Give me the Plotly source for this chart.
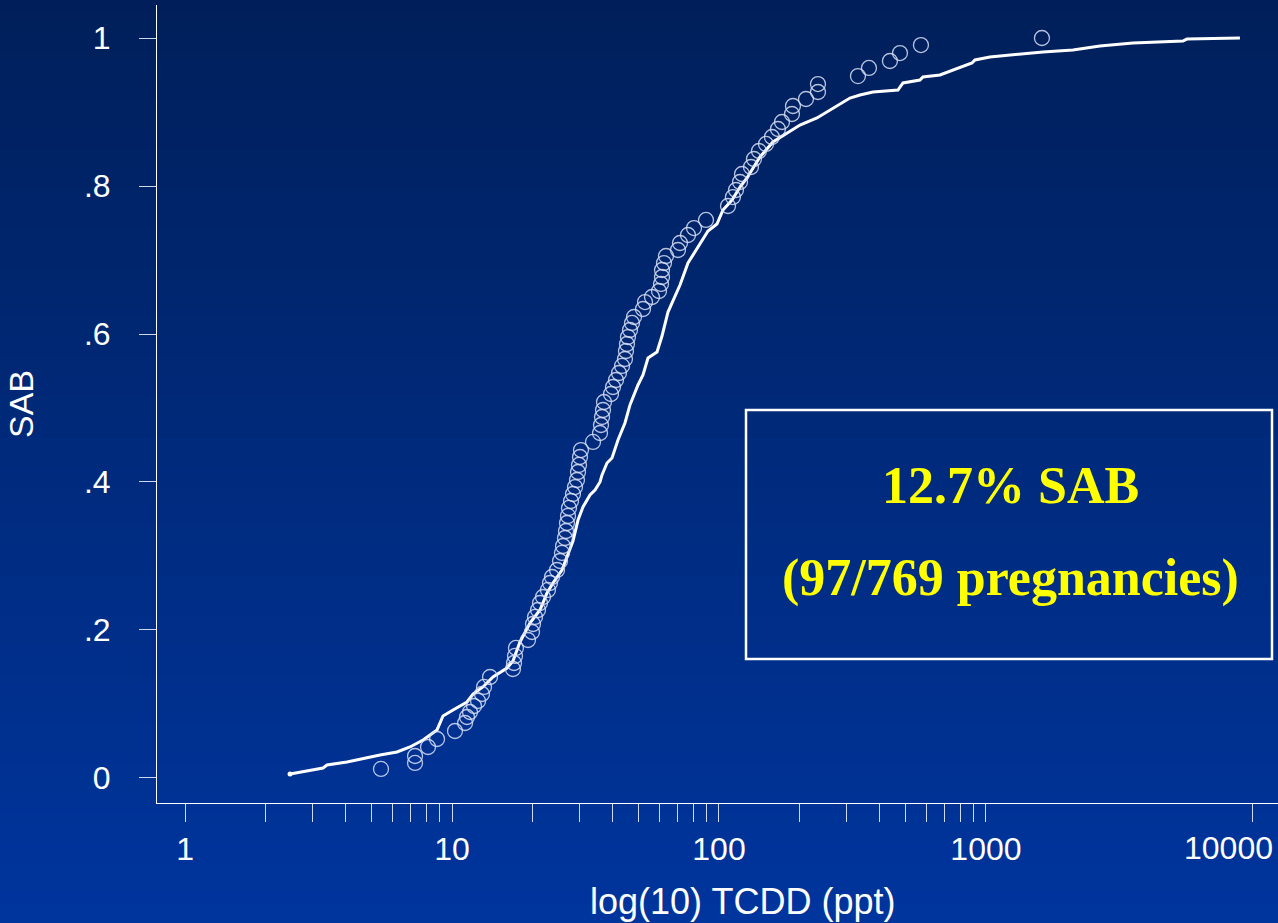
import math
import plotly.graph_objects as go

# ---------------- data ----------------
# SAB pregnancies: cumulative distribution of TCDD (ppt)
sab_tcdd = [5.42, 7.27, 7.27, 8.13, 8.79, 10.26, 11.19, 11.38, 11.68, 12.09,
            12.52, 12.95, 13.18, 13.88, 16.92, 17.07, 17.22, 17.36, 19.26, 19.94,
            20.11, 20.46, 21.00, 21.36, 21.92, 22.88, 23.28, 23.69, 24.74, 25.39,
            25.82, 26.05, 26.50, 26.73, 26.96, 27.20, 27.43, 27.91, 28.39, 28.89,
            29.39, 29.65, 29.90, 30.16, 30.42, 33.74, 35.84, 36.15, 36.47, 36.78,
            37.10, 39.40, 40.09, 41.14, 42.22, 43.34, 44.45, 44.84, 45.23, 45.62,
            46.42, 47.23, 48.05, 51.93, 52.84, 56.12, 59.62, 60.66, 61.18, 61.18,
            62.23, 63.32, 70.23, 71.45, 76.55, 80.62, 89.40, 108.1, 112.8, 115.8,
            119.9, 122.0, 131.8, 135.2, 141.2, 150.0, 157.9, 166.3, 172.2, 187.7,
            189.3, 211.8, 234.9, 234.9, 331.6, 364.6, 436.9, 476.4, 570.9, 1621]
sab_cum = [0.0122, 0.0203, 0.0297, 0.0419, 0.0527, 0.0635, 0.0743, 0.0824, 0.0892, 0.0973,
           0.1041, 0.1135, 0.1230, 0.1365, 0.1473, 0.1554, 0.1649, 0.1757, 0.1865, 0.1973,
           0.2081, 0.2176, 0.2270, 0.2365, 0.2446, 0.2541, 0.2635, 0.2716, 0.2811, 0.2932,
           0.3041, 0.3135, 0.3243, 0.3338, 0.3446, 0.3541, 0.3649, 0.3743, 0.3838, 0.3932,
           0.4027, 0.4135, 0.4230, 0.4338, 0.4432, 0.4541, 0.4662, 0.4770, 0.4878, 0.4973,
           0.5081, 0.5189, 0.5284, 0.5378, 0.5473, 0.5568, 0.5662, 0.5770, 0.5865, 0.5959,
           0.6054, 0.6149, 0.6230, 0.6338, 0.6432, 0.6500, 0.6581, 0.6676, 0.6770, 0.6865,
           0.6959, 0.7054, 0.7135, 0.7230, 0.7338, 0.7432, 0.7541, 0.7730, 0.7851, 0.7946,
           0.8054, 0.8162, 0.8257, 0.8365, 0.8473, 0.8568, 0.8662, 0.8770, 0.8865, 0.8973,
           0.9081, 0.9176, 0.9270, 0.9378, 0.9486, 0.9595, 0.9689, 0.9797, 0.9905, 1.0000]

# All pregnancies: cumulative distribution of TCDD (ppt)
all_tcdd = [2.474, 3.288, 3.402, 4.044, 5.375, 6.223, 6.962, 7.788, 8.787, 9.253,
            10.09, 11.38, 11.99, 13.06, 14.24, 16.07, 16.92, 17.97, 19.59, 21.36,
            22.69, 23.89, 25.82, 26.96, 28.39, 29.65, 30.95, 32.88, 34.33, 35.84,
            36.47, 38.07, 39.75, 41.86, 44.45, 46.42, 49.73, 51.93, 54.22, 58.60,
            61.18, 64.42, 71.45, 76.55, 84.88, 90.96, 98.29, 103.5, 111.9, 119.9,
            127.3, 142.4, 159.3, 189.3, 201.1, 232.8, 260.4, 309.5, 337.4, 377.4,
            468.2, 488.9, 566.0, 580.8, 672.6, 752.3, 886.5, 909.7, 1035, 1635,
            2118, 2673, 3553, 5467, 5660, 8941]
all_cum = [0.0054, 0.0135, 0.0176, 0.0216, 0.0311, 0.0351, 0.0419, 0.0514, 0.0649, 0.0838,
           0.0919, 0.1027, 0.1135, 0.1230, 0.1365, 0.1486, 0.1581, 0.1838, 0.2095, 0.2270,
           0.2500, 0.2635, 0.2811, 0.2986, 0.3203, 0.3486, 0.3662, 0.3824, 0.3892, 0.4000,
           0.4095, 0.4257, 0.4324, 0.4568, 0.4797, 0.5041, 0.5311, 0.5446, 0.5676, 0.5757,
           0.5973, 0.6297, 0.6662, 0.6959, 0.7230, 0.7392, 0.7486, 0.7676, 0.7811, 0.7986,
           0.8108, 0.8392, 0.8595, 0.8757, 0.8824, 0.8919, 0.9027, 0.9189, 0.9230, 0.9270,
           0.9297, 0.9392, 0.9432, 0.9473, 0.9500, 0.9568, 0.9662, 0.9703, 0.9743, 0.9811,
           0.9838, 0.9892, 0.9932, 0.9959, 0.9986, 1.0000]

x_tickvals = [1, 2, 3, 4, 5, 6, 7, 8, 9,
              10, 20, 30, 40, 50, 60, 70, 80, 90,
              100, 200, 300, 400, 500, 600, 700, 800, 900,
              1000, 10000]
x_ticktext = ["1", "", "", "", "", "", "", "", "",
              "10", "", "", "", "", "", "", "", "",
              "100", "", "", "", "", "", "", "", "",
              "1000", "10000"]
y_tickvals = [0, 0.2, 0.4, 0.6, 0.8, 1]
y_ticktext = ["0", ".2", ".4", ".6", ".8", "1"]

box_line1 = "12.7% SAB"
box_line2 = "(97/769 pregnancies)"
x_title = "log(10) TCDD (ppt)"
y_title = "SAB"

# ---------------- figure ----------------
W, H = 1278, 923
ML, MR, MT, MB = 157, 0, 5, 120
PW, PH = W - ML - MR, H - MT - MB

fig = go.Figure()

fig.add_trace(go.Scatter(
    x=all_tcdd, y=all_cum, mode="lines",
    line=dict(color="white", width=3),
    name="All pregnancies", showlegend=False))
fig.add_trace(go.Scatter(
    x=all_tcdd[:1], y=all_cum[:1], mode="markers",
    marker=dict(color="white", size=5),
    showlegend=False, hoverinfo="skip"))
fig.add_trace(go.Scatter(
    x=sab_tcdd, y=sab_cum, mode="markers",
    marker=dict(symbol="circle-open", size=15, color="rgba(215,222,245,0.85)",
                line=dict(width=1.3)),
    name="SAB", showlegend=False))

# gradient background (bands in paper coordinates)
top = (0, 31, 90)
bot = (0, 53, 158)
nb = 93
shapes = []
for i in range(nb):
    p0 = i * H / nb
    p1 = (i + 1) * H / nb + 1
    t = (i + 0.5) / nb
    c = tuple(round(top[k] + (bot[k] - top[k]) * t) for k in range(3))
    shapes.append(dict(
        type="rect", xref="paper", yref="paper", layer="below",
        x0=-ML / PW - 0.01, x1=1.02,
        y0=(H - MB - p1) / PH, y1=(H - MB - p0) / PH,
        fillcolor="rgb(%d,%d,%d)" % c, line=dict(width=0)))

# annotation box
shapes.append(dict(
    type="rect", xref="paper", yref="paper", layer="above",
    x0=(746 - ML) / PW, x1=(1272 - ML) / PW,
    y0=(H - MB - 659) / PH, y1=(H - MB - 410) / PH,
    line=dict(color="white", width=2.5), fillcolor="rgba(0,0,0,0)"))

serif = "Liberation Serif, Times New Roman, serif"
sans = "Liberation Sans, Arial, sans-serif"
annotations = [
    dict(xref="paper", yref="paper", x=(1010 - ML) / PW, y=(H - MB - 485) / PH,
         text="<b>%s</b>" % box_line1, showarrow=False, xanchor="center", yanchor="middle",
         font=dict(family=serif, size=52, color="#ffff00")),
    dict(xref="paper", yref="paper", x=(1010 - ML) / PW, y=(H - MB - 578) / PH,
         text="<b>%s</b>" % box_line2, showarrow=False, xanchor="center", yanchor="middle",
         font=dict(family=serif, size=52, color="#ffff00")),
    # last tick label, kept inside the page edge as in the reference
    dict(xref="x", yref="paper", x=math.log10(x_tickvals[-1]), y=(H - MB - 848) / PH,
         text=x_ticktext[-1], showarrow=False, xanchor="right", yanchor="middle",
         xshift=21, borderpad=0,
         font=dict(family=sans, size=32, color="white")),
    # x axis title (offset right of the plot centre as in the reference)
    dict(xref="paper", yref="paper", x=(742 - ML) / PW, y=(H - MB - 901) / PH,
         text=x_title, showarrow=False, xanchor="center", yanchor="middle",
         borderpad=0, font=dict(family=sans, size=36, color="white")),
]

fig.update_layout(
    width=W, height=H, autosize=False,
    margin=dict(l=ML, r=MR, t=MT, b=MB, pad=0, autoexpand=False),
    paper_bgcolor="rgb(0,42,124)",
    plot_bgcolor="rgba(0,0,0,0)",
    shapes=shapes, annotations=annotations,
    showlegend=False,
    font=dict(family=sans, color="white"),
    xaxis=dict(
        type="log", range=[-0.105, 4.094], autorange=False, automargin=False,
        showline=True, linecolor="white", linewidth=1, mirror=False,
        ticks="outside", ticklen=18, tickwidth=1, tickcolor="rgba(230,235,250,0.9)",
        tickmode="array", tickvals=x_tickvals, ticktext=x_ticktext[:-1] + [""],
        tickfont=dict(family=sans, size=32, color="white"),
        ticklabelstandoff=0,
        showgrid=False, zeroline=False,
    ),
    yaxis=dict(
        range=[-0.0338, 1.0446], autorange=False, automargin=False,
        showline=True, linecolor="white", linewidth=1,
        ticks="outside", ticklen=17, tickwidth=1, tickcolor="rgba(230,235,250,0.9)",
        tickmode="array", tickvals=y_tickvals, ticktext=y_ticktext,
        tickfont=dict(family=sans, size=32, color="white"),
        ticklabelstandoff=22,
        showgrid=False, zeroline=False,
        title=dict(text=y_title, font=dict(family=sans, size=34, color="white"),
                   standoff=40),
    ),
)

fig.write_html(
    "out.html",
    config={"responsive": False, "displayModeBar": False},
    post_script="document.body.style.margin='0';document.body.style.overflow='hidden';"
                "document.body.style.background='rgb(0,53,158)';")
